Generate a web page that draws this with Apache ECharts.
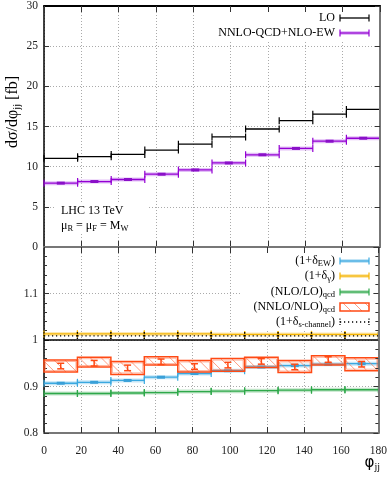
<!DOCTYPE html>
<html>
<head>
<meta charset="utf-8">
<script src="https://cdn.jsdelivr.net/npm/echarts@6/dist/echarts.min.js"></script>
<style>
  html, body { margin: 0; padding: 0; background: #fff; }
  #main { width: 390px; height: 477px; }
</style>
</head>
<body>
<div id="main"></div>
<script>
// bins in phi_jj (degrees)
var binEdges = [0, 18, 36, 54, 72, 90, 108, 126, 144, 162, 180];

// upper panel: d sigma / d phi_jj [fb]
var loXsec   = [11.04, 11.24, 11.53, 12.06, 12.80, 13.70, 14.69, 15.72, 16.54, 17.12];
var nnloXsec = [7.95, 8.15, 8.40, 9.06, 9.59, 10.46, 11.48, 12.27, 13.17, 13.54];

// lower panel: ratios
var deltaEW    = [0.907, 0.909, 0.913, 0.920, 0.928, 0.934, 0.942, 0.945, 0.948, 0.949];
var deltaGamma = [1.013, 1.013, 1.013, 1.013, 1.013, 1.012, 1.012, 1.012, 1.012, 1.012];
var nloQcd     = [0.885, 0.885, 0.886, 0.887, 0.889, 0.890, 0.891, 0.892, 0.893, 0.893];
var nnloQcdLo  = [0.931, 0.942, 0.926, 0.946, 0.931, 0.933, 0.941, 0.930, 0.946, 0.934];
var nnloQcdHi  = [0.957, 0.963, 0.954, 0.964, 0.956, 0.960, 0.963, 0.956, 0.966, 0.962];
var nnloQcdMid = [0.944, 0.950, 0.940, 0.953, 0.943, 0.946, 0.954, 0.942, 0.958, 0.948];
var nnloQcdErr = [0.006, 0.006, 0.006, 0.006, 0.006, 0.006, 0.006, 0.006, 0.006, 0.006];
var deltaSchan = [1.009, 1.009, 1.009, 1.009, 1.009, 1.009, 1.009, 1.009, 1.009, 1.009];

var FONT = 'Liberation Serif';
var TXT = '#222';

function binned(vals) {
    return vals.map(function (v, i) { return [binEdges[i], binEdges[i + 1], v]; });
}

function stepItem(color, band, mark, dotted) {
    return function (params, api) {
        var x0 = api.value(0), x1 = api.value(1), y = api.value(2);
        var a = api.coord([x0, y]), b = api.coord([x1, y]);
        var m = api.coord([(x0 + x1) / 2, y]);
        var kids = [];
        if (band) {
            kids.push({ type: 'rect', shape: { x: a[0], y: a[1] - 2, width: b[0] - a[0], height: 4 }, style: { fill: band } });
        }
        kids.push({ type: 'line', shape: { x1: a[0], y1: a[1], x2: b[0], y2: b[1] },
            style: { stroke: color, lineWidth: 1.3, lineDash: dotted ? [1.2, 2.8] : null } });
        kids.push({ type: 'line', shape: { x1: a[0], y1: a[1] - 3.5, x2: a[0], y2: a[1] + 3.5 },
            style: { stroke: color, lineWidth: 1.2, lineDash: dotted ? [1.2, 1.5] : null } });
        kids.push({ type: 'line', shape: { x1: b[0], y1: b[1] - 3.5, x2: b[0], y2: b[1] + 3.5 },
            style: { stroke: color, lineWidth: 1.2, lineDash: dotted ? [1.2, 1.5] : null } });
        if (mark) {
            kids.push({ type: 'rect', shape: { x: m[0] - 4, y: m[1] - 1.5, width: 8, height: 3 }, style: { fill: mark } });
        }
        return { type: 'group', children: kids };
    };
}

function hatchLines(x0, y0, x1, y1, step, color) {
    var h = y1 - y0, out = [];
    for (var xs = x0 - h; xs < x1; xs += step) {
        var sx = xs, sy = y0, ex = xs + h, ey = y1;
        if (sx < x0) { sy = y0 + (x0 - sx); sx = x0; }
        if (ex > x1) { ey = y1 - (ex - x1); ex = x1; }
        if (ex > sx) {
            out.push({ type: 'line', shape: { x1: sx, y1: sy, x2: ex, y2: ey }, style: { stroke: color, lineWidth: 0.9 } });
        }
    }
    return out;
}

function boxItem(params, api) {
    var x0 = api.value(0), x1 = api.value(1);
    var lo = api.value(2), hi = api.value(3), mid = api.value(4), err = api.value(5);
    var tl = api.coord([x0, hi]), br = api.coord([x1, lo]);
    var xm = api.coord([(x0 + x1) / 2, mid]);
    var eHi = api.coord([(x0 + x1) / 2, mid + err]), eLo = api.coord([(x0 + x1) / 2, mid - err]);
    var kids = hatchLines(tl[0], tl[1], br[0], br[1], 11, 'rgba(255,110,70,0.75)');
    kids.push({ type: 'rect', shape: { x: tl[0] + 1.5, y: tl[1] + 1.5, width: br[0] - tl[0] - 3, height: br[1] - tl[1] - 3 },
        style: { fill: 'none', stroke: 'rgba(255,120,80,0.55)', lineWidth: 1 } });
    kids.push({ type: 'rect', shape: { x: tl[0], y: tl[1], width: br[0] - tl[0], height: br[1] - tl[1] },
        style: { fill: 'none', stroke: '#ff4a14', lineWidth: 1.5 } });
    kids.push({ type: 'line', shape: { x1: xm[0], y1: eHi[1], x2: xm[0], y2: eLo[1] }, style: { stroke: '#ff4a14', lineWidth: 1.5 } });
    kids.push({ type: 'line', shape: { x1: xm[0] - 3.5, y1: eHi[1], x2: xm[0] + 3.5, y2: eHi[1] }, style: { stroke: '#ff4a14', lineWidth: 1.5 } });
    kids.push({ type: 'line', shape: { x1: xm[0] - 3.5, y1: eLo[1], x2: xm[0] + 3.5, y2: eLo[1] }, style: { stroke: '#ff4a14', lineWidth: 1.5 } });
    return { type: 'group', children: kids };
}

var richSub = {
    n: { fontFamily: FONT, fontSize: 12, color: TXT },
    s: { fontFamily: FONT, fontSize: 8.5, color: TXT, padding: [6, 0, 0, 0] }
};

function legendSample(y, color, band) {
    var els = [
        { type: 'line', shape: { x1: 340, y1: y, x2: 369, y2: y }, style: { stroke: color, lineWidth: 1.3 }, z: 20 },
        { type: 'line', shape: { x1: 340, y1: y - 3.5, x2: 340, y2: y + 3.5 }, style: { stroke: color, lineWidth: 1.2 }, z: 20 },
        { type: 'line', shape: { x1: 369, y1: y - 3.5, x2: 369, y2: y + 3.5 }, style: { stroke: color, lineWidth: 1.2 }, z: 20 }
    ];
    if (band) {
        els.push({ type: 'rect', shape: { x: 340, y: y - 2, width: 29, height: 4 }, style: { fill: band }, z: 19 });
    }
    return els;
}

function label(x, y, text, align) {
    return { type: 'text', x: x, y: y, z: 20,
        style: { text: text, align: align, verticalAlign: 'middle', rich: richSub } };
}

// white key / annotation boxes sit over the grid lines, under the frame axes
var graphics = [
    { type: 'rect', shape: { x: 212, y: 9, width: 165, height: 31 }, style: { fill: '#fff' }, z: 1 },
    { type: 'rect', shape: { x: 240, y: 251, width: 137, height: 78 }, style: { fill: '#fff' }, z: 1 },
    { type: 'rect', shape: { x: 56, y: 204, width: 92, height: 30 }, style: { fill: '#fff' }, z: 1 },
    label(335, 18, '{n|LO}', 'right'),
    label(335, 33, '{n|NNLO-QCD+NLO-EW}', 'right'),
    label(335, 261, '{n|(1+δ}{s|EW}{n|)}', 'right'),
    label(335, 276, '{n|(1+δ}{s|γ}{n|)}', 'right'),
    label(335, 292, '{n|(NLO/LO)}{s|qcd}', 'right'),
    label(335, 307, '{n|(NNLO/NLO)}{s|qcd}', 'right'),
    label(335, 322, '{n|(1+δ}{s|s-channel}{n|)}', 'right'),
    label(61, 211, '{n|LHC 13 TeV}', 'left'),
    label(61, 226, '{n|μ}{s|R}{n| = μ}{s|F}{n| = M}{s|W}', 'left'),
    { type: 'text', x: 13, y: 112, rotation: Math.PI / 2, z: 20,
      style: { text: '{n|dσ/dφ}{s|jj}{n| [fb]}', align: 'center', verticalAlign: 'middle',
        rich: { n: { fontFamily: FONT, fontSize: 16, color: TXT }, s: { fontFamily: FONT, fontSize: 10.5, color: TXT, padding: [8, 0, 0, 0] } } } },
    { type: 'text', x: 380, y: 463, z: 20,
      style: { text: '{p|φ}{s|jj}', align: 'right', verticalAlign: 'middle',
        rich: { p: { fontFamily: 'DejaVu Sans', fontSize: 15, color: TXT }, s: { fontFamily: FONT, fontSize: 10, color: TXT, padding: [8, 0, 0, 0] } } } }
]
.concat(legendSample(18, '#000'))
.concat(legendSample(33, '#9400d3', 'rgba(160,40,230,0.3)'))
.concat(legendSample(261, '#3aa8e0', 'rgba(58,168,224,0.3)'))
.concat(legendSample(276, '#f5b400', 'rgba(245,180,0,0.3)'))
.concat(legendSample(292, '#2ea84a', 'rgba(46,168,74,0.3)'))
.concat(hatchLines(340, 303, 369, 311, 11, 'rgba(255,110,70,0.75)').map(function (e) { e.z = 20; return e; }))
.concat([
    { type: 'rect', shape: { x: 340, y: 303, width: 29, height: 8 }, style: { fill: 'none', stroke: '#ff4a14', lineWidth: 1.5 }, z: 20 },
    { type: 'line', shape: { x1: 340, y1: 322, x2: 369, y2: 322 }, style: { stroke: '#000', lineWidth: 1.3, lineDash: [1.2, 2.8] }, z: 20 },
    { type: 'line', shape: { x1: 340, y1: 318.5, x2: 340, y2: 325.5 }, style: { stroke: '#000', lineWidth: 1.2, lineDash: [1.2, 1.5] }, z: 20 },
    { type: 'line', shape: { x1: 369, y1: 318.5, x2: 369, y2: 325.5 }, style: { stroke: '#000', lineWidth: 1.2, lineDash: [1.2, 1.5] }, z: 20 }
]);

var dotted = { show: true, lineStyle: { color: '#aaa', width: 1, type: [1, 2] } };

// axes carrying grid lines stay at z 0; frame-only axes are lifted above the key boxes
function xAx(grid, pos, lineColor, width, showLabel, split) {
    return {
        type: 'value', gridIndex: grid, position: pos, min: 0, max: 180, interval: 20, z: split ? 0 : 5,
        axisLine: { show: true, onZero: false, lineStyle: { color: lineColor, width: width } },
        axisTick: { show: true, inside: true, length: 6, lineStyle: { color: '#333' } },
        axisLabel: { show: showLabel, margin: 12, fontFamily: FONT, fontSize: 11.5, color: TXT },
        splitLine: split ? dotted : { show: false }
    };
}

function yAx(grid, pos, min, max, interval, lineColor, width, showLabel, split, minor, fmt) {
    return {
        type: 'value', gridIndex: grid, position: pos, min: min, max: max, interval: interval, z: split ? 0 : 5,
        axisLine: { show: true, onZero: false, lineStyle: { color: lineColor, width: width } },
        axisTick: { show: true, inside: true, length: 5, lineStyle: { color: '#333' } },
        minorTick: { show: minor, splitNumber: 5, length: 3, lineStyle: { color: '#333' } },
        axisLabel: { show: showLabel, margin: 6, fontFamily: FONT, fontSize: 11.5, color: TXT, formatter: fmt },
        splitLine: split ? dotted : { show: false }
    };
}

var chart = echarts.init(document.getElementById('main'));
chart.setOption({
    animation: false,
    backgroundColor: '#fff',
    grid: [
        { left: 44, top: 4, width: 336, height: 243 },
        { left: 44, top: 247, width: 336, height: 186 }
    ],
    xAxis: [
        xAx(0, 'bottom', '#777', 2, false, true),
        xAx(0, 'top', '#000', 2, false, false),
        xAx(1, 'bottom', '#777', 2, true, true),
        xAx(1, 'top', '#777', 2, false, false)
    ],
    yAxis: [
        yAx(0, 'left', 0, 30, 5, '#000', 1.5, true, true, false),
        yAx(0, 'right', 0, 30, 5, '#777', 2, false, false, false),
        yAx(1, 'left', 0.8, 1.2, 0.1, '#000', 1.5, true, true, true, function (v) {
            return v > 1.15 ? '' : String(+v.toFixed(1));
        }),
        yAx(1, 'right', 0.8, 1.2, 0.1, '#777', 2, false, false, true)
    ],
    graphic: graphics,
    series: [
        { type: 'custom', name: 'LO', xAxisIndex: 0, yAxisIndex: 0, z: 3,
          renderItem: stepItem('#000'), data: binned(loXsec) },
        { type: 'custom', name: 'NNLO-QCD+NLO-EW', xAxisIndex: 0, yAxisIndex: 0, z: 3,
          renderItem: stepItem('#9400d3', 'rgba(160,40,230,0.3)', '#8a10c8'), data: binned(nnloXsec) },
        { type: 'custom', name: '(1+dEW)', xAxisIndex: 2, yAxisIndex: 2, z: 3,
          renderItem: stepItem('#3aa8e0', 'rgba(58,168,224,0.3)', '#3aa0d8'), data: binned(deltaEW),
          markLine: { silent: true, symbol: 'none', label: { show: false },
            lineStyle: { color: '#000', width: 1.5, type: 'solid' }, data: [{ yAxis: 1 }] } },
        { type: 'custom', name: '(1+dgamma)', xAxisIndex: 2, yAxisIndex: 2, z: 3,
          renderItem: stepItem('#f5b400', 'rgba(245,180,0,0.3)'), data: binned(deltaGamma) },
        { type: 'custom', name: '(NLO/LO)qcd', xAxisIndex: 2, yAxisIndex: 2, z: 3,
          renderItem: stepItem('#2ea84a', 'rgba(46,168,74,0.3)'), data: binned(nloQcd) },
        { type: 'custom', name: '(1+ds-channel)', xAxisIndex: 2, yAxisIndex: 2, z: 4,
          renderItem: stepItem('#000', null, null, true), data: binned(deltaSchan) },
        { type: 'custom', name: '(NNLO/NLO)qcd', xAxisIndex: 2, yAxisIndex: 2, z: 4,
          renderItem: boxItem,
          data: nnloQcdMid.map(function (v, i) {
              return [binEdges[i], binEdges[i + 1], nnloQcdLo[i], nnloQcdHi[i], v, nnloQcdErr[i]];
          }) }
    ]
});
</script>
</body>
</html>
